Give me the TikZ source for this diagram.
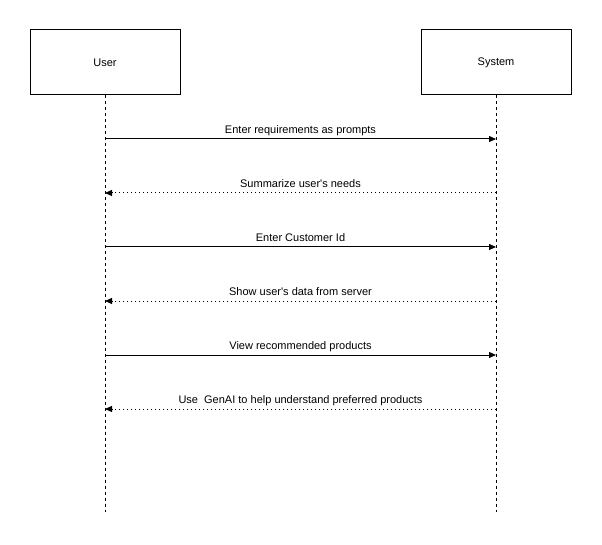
\documentclass[tikz,border=0pt]{standalone}
\usepackage{fontspec}
\setmainfont{Liberation Sans}
\usetikzlibrary{arrows.meta}
\tikzstyle{actorNode}=[draw,rectangle,minimum width=150pt,minimum height=65pt,inner sep=0pt,line width=1pt,font=\fontsize{11}{13}\selectfont]
\tikzstyle{lifeline}=[dash pattern=on 3pt off 3pt,line width=1pt]
\tikzstyle{message}=[-{Triangle[length=7pt,width=6pt]},line width=1pt]
\tikzstyle{reply}=[message,dash pattern=on 1.5pt off 2.5pt]
\tikzstyle{msgLabel}=[anchor=base,yshift=5.5pt,inner sep=0pt,font=\fontsize{11}{13}\selectfont]

\begin{document}
\begin{tikzpicture}[x=1pt,y=-1pt]

    \useasboundingbox (0,0) rectangle (602,545);

    \node[actorNode] (user) at (105,62.5) {User};
    \node[actorNode] (system) at (496,62.5) {System};
    \coordinate (userEnd) at (105,512);
    \coordinate (systemEnd) at (496,512);

    \draw[lifeline] (user) -- (userEnd);
    \draw[lifeline] (system) -- (systemEnd);

    \coordinate (u1) at (105,139);
    \coordinate (s1) at (496,139);
    \coordinate (u2) at (105,193);
    \coordinate (s2) at (496,193);
    \coordinate (u3) at (105,247);
    \coordinate (s3) at (496,247);
    \coordinate (u4) at (105,301);
    \coordinate (s4) at (496,301);
    \coordinate (u5) at (105,355);
    \coordinate (s5) at (496,355);
    \coordinate (u6) at (105,409);
    \coordinate (s6) at (496,409);

    \draw[message] (u1) -- node[msgLabel] {Enter requirements as prompts} (s1);
    \draw[reply] (s2) -- node[msgLabel] {Summarize user\textquotesingle s needs} (u2);
    \draw[message] (u3) -- node[msgLabel] {Enter Customer Id} (s3);
    \draw[reply] (s4) -- node[msgLabel] {Show user\textquotesingle s data from server} (u4);
    \draw[message] (u5) -- node[msgLabel] {View recommended products} (s5);
    \draw[reply] (s6) -- node[msgLabel] {Use\ \ GenAI to help understand preferred products} (u6);

\end{tikzpicture}
\end{document}
